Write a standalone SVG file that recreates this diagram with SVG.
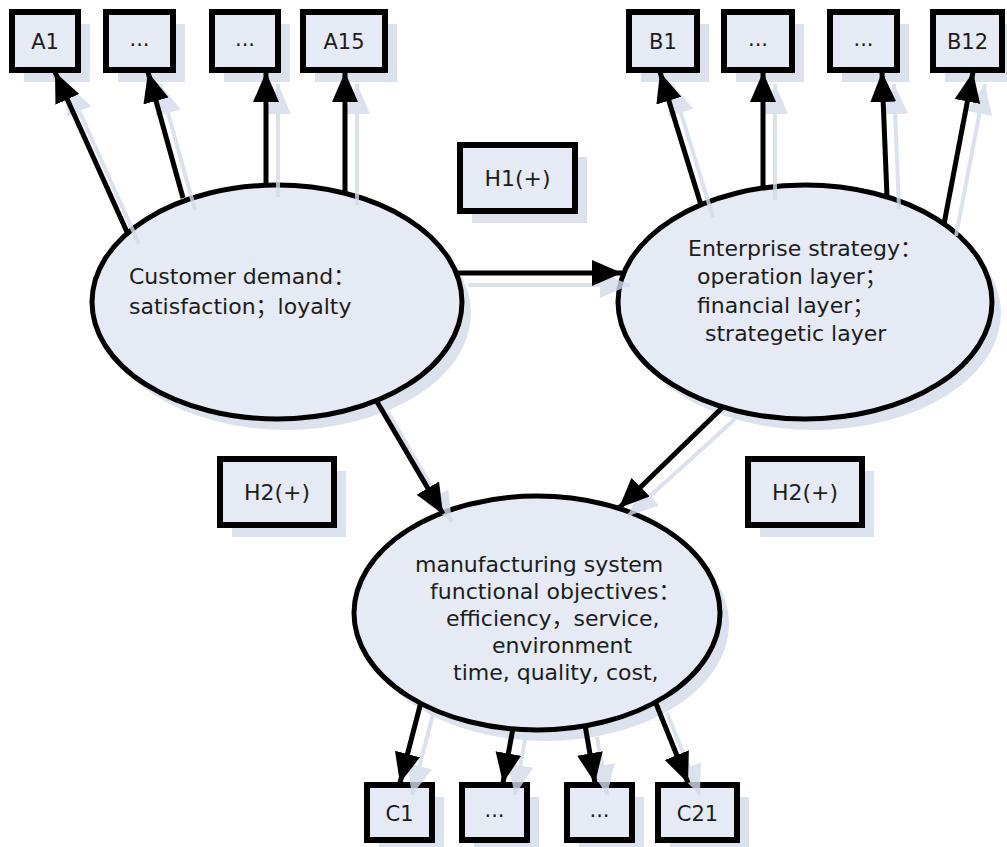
<svg xmlns="http://www.w3.org/2000/svg" width="1007" height="847" viewBox="0 0 1007 847">
<defs>
<style>
.bx{fill:#e5eaf5;stroke:#000;stroke-width:6}
.el{fill:#e5eaf5;stroke:#000;stroke-width:5}
.sh{fill:#dbe2ee;stroke:none}
.t{font-family:"DejaVu Sans","Noto Sans CJK SC",sans-serif;font-size:22px;fill:#1c1c1c}
.bl{font-family:"DejaVu Sans","Noto Sans CJK SC",sans-serif;font-size:21px;fill:#1c1c1c;text-anchor:middle}
.c{stroke:#000;stroke-width:5;fill:none;marker-end:url(#ah)}
.cs{stroke:#d3dbe9;stroke-width:4;fill:none;marker-end:url(#ahs)}
</style>
<marker id="ah" markerUnits="userSpaceOnUse" markerWidth="32" markerHeight="28" refX="30" refY="13" orient="auto" viewBox="0 0 32 28">
<path d="M0,0 L30,13 L0,26 z" fill="#000"/>
</marker>
<marker id="ahs" markerUnits="userSpaceOnUse" markerWidth="32" markerHeight="28" refX="30" refY="13" orient="auto" viewBox="0 0 32 28">
<path d="M0,0 L30,13 L0,26 z" fill="#d3dbe9"/>
</marker>
</defs>
<rect width="1007" height="847" fill="#fff"/>

<g id="shadows">
<ellipse class="sh" cx="286" cy="313" rx="185" ry="117"/>
<ellipse class="sh" cx="814" cy="313" rx="187" ry="117"/>
<ellipse class="sh" cx="546" cy="624" rx="183" ry="117"/>
<rect class="sh" x="24" y="24" width="66" height="58"/>
<rect class="sh" x="118" y="24" width="67" height="58"/>
<rect class="sh" x="224" y="24" width="66" height="58"/>
<rect class="sh" x="315" y="24" width="82" height="58"/>
<rect class="sh" x="641" y="24" width="68" height="58"/>
<rect class="sh" x="736" y="24" width="68" height="58"/>
<rect class="sh" x="842" y="24" width="67" height="58"/>
<rect class="sh" x="945" y="24" width="62" height="58"/>
<rect class="sh" x="472" y="157" width="115" height="66"/>
<rect class="sh" x="232" y="471" width="114" height="66"/>
<rect class="sh" x="760" y="471" width="114" height="66"/>
<rect class="sh" x="379" y="797" width="65" height="50"/>
<rect class="sh" x="474" y="797" width="65" height="50"/>
<rect class="sh" x="579" y="797" width="65" height="50"/>
<rect class="sh" x="670" y="797" width="79" height="50"/>
</g>

<g id="customer"><ellipse class="el" cx="277" cy="302" rx="185" ry="117"/>
<text class="t" x="129" y="284">Customer demand：</text>
<text class="t" x="129" y="314">satisfaction；loyalty</text></g>

<g id="enterprise"><ellipse class="el" cx="805" cy="302" rx="187" ry="117"/>
<text class="t" x="688" y="256">Enterprise strategy：</text>
<text class="t" x="697" y="284">operation layer；</text>
<text class="t" x="697" y="313">financial layer；</text>
<text class="t" x="705" y="341">strategetic layer</text></g>

<g id="manufacturing"><ellipse class="el" cx="537" cy="613" rx="183" ry="117"/>
<text class="t" x="415" y="572">manufacturing system</text>
<text class="t" x="430" y="599">functional objectives：</text>
<text class="t" x="446" y="626">efficiency，service,</text>
<text class="t" x="492" y="653">environment</text>
<text class="t" x="453" y="680">time, quality, cost,</text></g>

<g id="A1"><rect class="bx" x="12" y="12" width="66" height="58"/><text class="bl" x="45" y="49">A1</text></g>
<g id="A2"><rect class="bx" x="106" y="12" width="67" height="58"/><text class="bl" x="139.5" y="46">...</text></g>
<g id="A3"><rect class="bx" x="212" y="12" width="66" height="58"/><text class="bl" x="245" y="46">...</text></g>
<g id="A15"><rect class="bx" x="303" y="12" width="82" height="58"/><text class="bl" x="344" y="49">A15</text></g>

<g id="B1"><rect class="bx" x="629" y="12" width="68" height="58"/><text class="bl" x="663" y="49">B1</text></g>
<g id="B2"><rect class="bx" x="724" y="12" width="68" height="58"/><text class="bl" x="758" y="46">...</text></g>
<g id="B3"><rect class="bx" x="830" y="12" width="67" height="58"/><text class="bl" x="863.5" y="46">...</text></g>
<g id="B12"><rect class="bx" x="933" y="12" width="69" height="58"/><text class="bl" x="967.5" y="49">B12</text></g>

<g id="H1"><rect class="bx" x="460" y="145" width="115" height="66"/><text class="bl" x="517.5" y="186" style="font-size:22px">H1(+)</text></g>
<g id="H2a"><rect class="bx" x="220" y="459" width="114" height="66"/><text class="bl" x="277" y="500" style="font-size:22px">H2(+)</text></g>
<g id="H2b"><rect class="bx" x="748" y="459" width="114" height="66"/><text class="bl" x="805" y="500" style="font-size:22px">H2(+)</text></g>

<g id="C1"><rect class="bx" x="367" y="785" width="65" height="55"/><text class="bl" x="399.5" y="821">C1</text></g>
<g id="C2"><rect class="bx" x="462" y="785" width="65" height="55"/><text class="bl" x="494.5" y="817">...</text></g>
<g id="C3"><rect class="bx" x="567" y="785" width="65" height="55"/><text class="bl" x="599.5" y="817">...</text></g>
<g id="C21"><rect class="bx" x="658" y="785" width="79" height="55"/><text class="bl" x="697.5" y="821">C21</text></g>

<g id="connector-shadows" opacity="0.8">
<path class="cs" d="M139,244 L67,84"/>
<path class="cs" d="M195,210 L160,84"/>
<path class="cs" d="M278,197 L278,84"/>
<path class="cs" d="M357,205 L357,84"/>
<path class="cs" d="M713,217 L672,84"/>
<path class="cs" d="M775,200 L775,84"/>
<path class="cs" d="M899,209 L894,84"/>
<path class="cs" d="M956,236 L985,84"/>
<path class="cs" d="M468,285 L630,285"/>
<path class="cs" d="M388,412 L452,522"/>
<path class="cs" d="M735,419 L628,516"/>
<path class="cs" d="M433,714 L412,795"/>
<path class="cs" d="M525,740 L515,795"/>
<path class="cs" d="M597,737 L607,795"/>
<path class="cs" d="M667,713 L700,795"/>
</g>

<g id="connectors">
<path class="c" d="M127,232 L55,72"/>
<path class="c" d="M183,198 L148,72"/>
<path class="c" d="M266,185 L266,72"/>
<path class="c" d="M345,193 L345,72"/>
<path class="c" d="M701,205 L660,72"/>
<path class="c" d="M763,188 L763,72"/>
<path class="c" d="M887,197 L882,72"/>
<path class="c" d="M944,224 L973,72"/>
<path class="c" d="M456,273 L622,273"/>
<path class="c" d="M376,400 L443,514"/>
<path class="c" d="M723,407 L619,508"/>
<path class="c" d="M421,702 L400,783"/>
<path class="c" d="M513,728 L503,783"/>
<path class="c" d="M585,725 L595,783"/>
<path class="c" d="M655,701 L688,783"/>
</g>
</svg>
